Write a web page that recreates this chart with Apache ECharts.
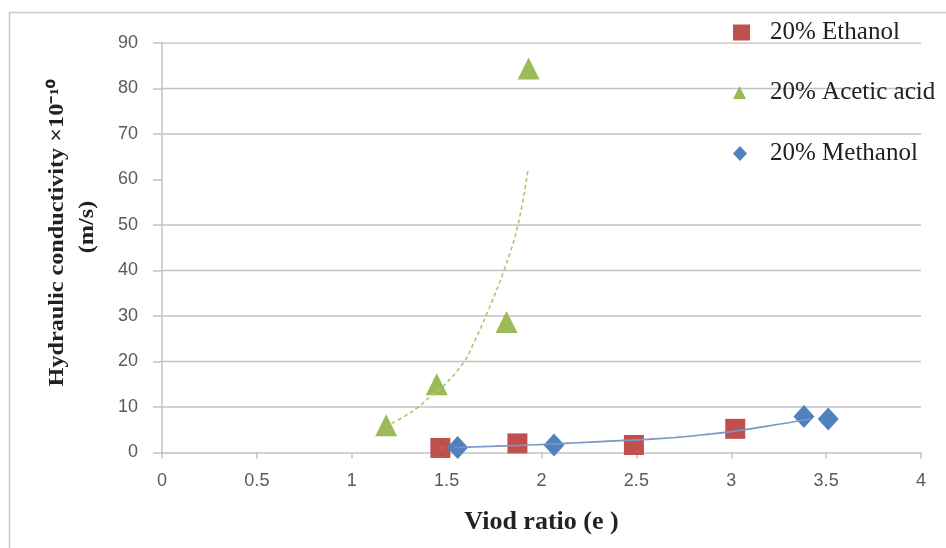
<!DOCTYPE html>
<html>
<head>
<meta charset="utf-8">
<script src="https://cdn.jsdelivr.net/npm/echarts@6/dist/echarts.min.js"></script>
<style>
html,body{margin:0;padding:0;background:#fff;}
#chart{width:946px;height:548px;}
</style>
</head>
<body>
<div id="chart"></div>
<script>
// ---- data ----
const seriesNames = ['20% Ethanol', '20% Acetic acid', '20% Methanol'];
const ethanolPts = [[1.467, 1.0], [1.873, 2.0], [2.487, 1.65], [3.021, 5.2]];
const aceticPts = [[1.181, 6.0], [1.448, 15.0], [1.816, 28.7], [1.932, 84.4]];
const methanolPts = [[1.558, 1.1], [2.066, 1.65], [3.383, 7.9], [3.511, 7.35]];
// trend lines as drawn in the reference
const aceticTrend = [[1.21, 6.4], [1.28, 8.0], [1.35, 10], [1.42, 12.5], [1.49, 14.9], [1.593, 20], [1.65, 24.7], [1.707, 30], [1.802, 40], [1.876, 50], [1.93, 62.4]];
const methanolTrend = [[1.56, 1.1], [1.87, 1.55], [2.07, 1.9], [2.31, 2.4], [2.6, 3.0], [2.83, 3.8], [3.02, 4.7], [3.19, 5.8], [3.31, 6.6], [3.42, 7.4]];
const ethanolTrend = [[1.47, 1.0], [1.87, 1.55], [2.07, 1.9], [2.31, 2.4], [2.6, 3.0], [2.83, 3.8], [3.02, 4.7]];
const xTicks = [0, 0.5, 1, 1.5, 2, 2.5, 3, 3.5, 4];
const yTicks = [0, 10, 20, 30, 40, 50, 60, 70, 80, 90];
const yGridLines = [10, 20, 30, 40, 50, 70, 80, 90]; // the 60 gridline is absent in the reference
const xTitle = 'Viod ratio (e )';
const yTitle1 = 'Hydraulic conductivity \u00d710\u207b\u00b9\u2070';
const yTitle2 = '(m/s)';

const RED = '#C0504D', GREEN = '#9BBB59', BLUE = '#4F81BD';
const GRID = '#c2c2c2';
const xMin = xTicks[0], xMax = xTicks[xTicks.length - 1];

const chart = echarts.init(document.getElementById('chart'), null, {renderer: 'canvas'});

function legendItem(name, icon, w, h, top) {
  return {
    data: [name], orient: 'vertical', left: 733, top: top,
    icon: icon, itemWidth: w, itemHeight: h,
    padding: 0, itemGap: 0,
    textStyle: {fontFamily: 'Liberation Serif', fontSize: 25, color: '#222', padding: [0, 0, 0, 32 - w]},
    selectedMode: false
  };
}

const gridSeries = yGridLines.map(v => ({
  name: 'grid' + v, type: 'line', data: [[xMin, v], [xMax, v]], symbol: 'none', showSymbol: false,
  lineStyle: {color: GRID, width: 1.5}, z: 1, silent: true, emphasis: {disabled: true}
}));

const option = {
  animation: false,
  backgroundColor: '#fff',
  grid: {left: 162, right: 25, top: 43, bottom: 95.5, containLabel: false},
  legend: [
    legendItem(seriesNames[0], 'rect', 17, 16, 20),
    legendItem(seriesNames[1], 'triangle', 13, 13, 80),
    legendItem(seriesNames[2], 'diamond', 14, 15, 141)
  ],
  xAxis: {
    type: 'value', min: xMin, max: xMax, interval: 0.5,
    axisLine: {show: true, lineStyle: {color: GRID, width: 1.5}},
    axisTick: {show: true, length: 6, lineStyle: {color: GRID, width: 1.5}},
    splitLine: {show: false},
    axisLabel: {margin: 20, fontFamily: 'Liberation Sans', fontSize: 18, color: '#5a5a5a'},
    name: xTitle, nameLocation: 'middle', nameGap: 57,
    nameTextStyle: {fontFamily: 'Liberation Serif', fontWeight: 'bold', fontSize: 26, color: '#222'}
  },
  yAxis: {
    type: 'value', min: yTicks[0], max: yTicks[yTicks.length - 1], interval: 10,
    axisLine: {show: true, lineStyle: {color: GRID, width: 1.5}},
    axisTick: {show: true, length: 9, lineStyle: {color: GRID, width: 1.5}},
    splitLine: {show: false},
    axisLabel: {margin: 24, fontFamily: 'Liberation Sans', fontSize: 18, color: '#5a5a5a'}
  },
  graphic: [
    {type: 'rect', shape: {x: 9.5, y: 12.5, width: 1200, height: 1200}, style: {fill: 'none', stroke: '#c8c8c8', lineWidth: 1.5}, silent: true},
    {type: 'text', x: 58, y: 233, rotation: Math.PI / 2, scaleX: 1.21,
     style: {text: yTitle1, fontFamily: 'Liberation Serif', fontWeight: 'bold', fontSize: 20, fill: '#222', align: 'center', verticalAlign: 'middle'}},
    {type: 'text', x: 88, y: 227, rotation: Math.PI / 2, scaleX: 1.21,
     style: {text: yTitle2, fontFamily: 'Liberation Serif', fontWeight: 'bold', fontSize: 20, fill: '#222', align: 'center', verticalAlign: 'middle'}}
  ],
  series: gridSeries.concat([
    {name: seriesNames[0], type: 'scatter', data: ethanolPts, symbol: 'rect', symbolSize: [20, 20], itemStyle: {color: RED, opacity: 1}, z: 2},
    {name: seriesNames[1], type: 'scatter', data: aceticPts, symbol: 'triangle', symbolSize: [22, 22], itemStyle: {color: GREEN, opacity: 1}, z: 2},
    {name: seriesNames[2], type: 'scatter', data: methanolPts, symbol: 'diamond', symbolSize: [21, 23], itemStyle: {color: BLUE, opacity: 1}, z: 3},
    {name: 'trend-acetic', type: 'line', data: aceticTrend, smooth: 0.4, showSymbol: false, symbol: 'none',
     lineStyle: {color: '#a9c870', width: 1.6, type: [4, 3]}, z: 4, silent: true},
    {name: 'trend-methanol', type: 'line', data: methanolTrend, smooth: 0.4, showSymbol: false, symbol: 'none',
     lineStyle: {color: '#6f9bd0', width: 1.6}, z: 4, silent: true},
    {name: 'trend-ethanol', type: 'line', data: ethanolTrend, smooth: 0.4, showSymbol: false, symbol: 'none',
     lineStyle: {color: '#d27c7a', width: 1.4, type: [2, 12]}, z: 5, silent: true}
  ])
};
chart.setOption(option);
</script>
</body>
</html>
